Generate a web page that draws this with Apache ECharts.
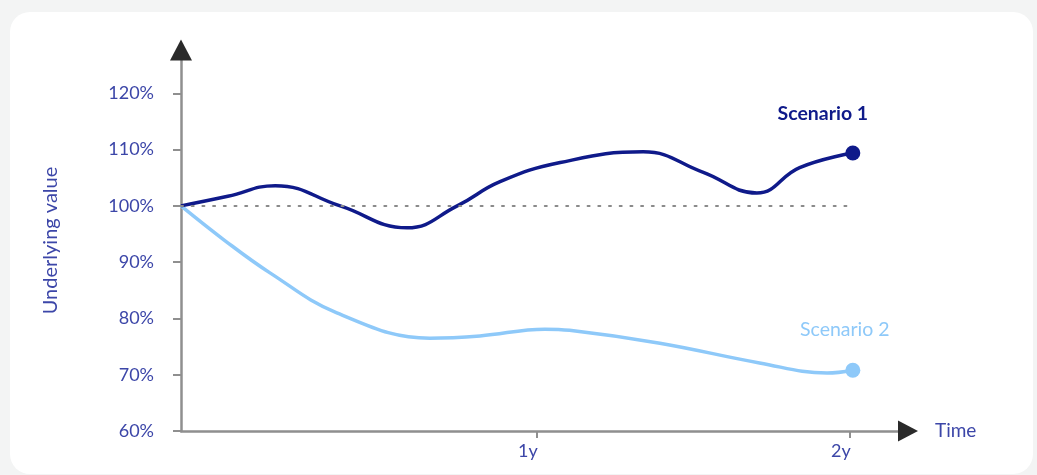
<!DOCTYPE html>
<html>
<head>
<meta charset="utf-8">
<script src="https://cdn.jsdelivr.net/npm/echarts@6/dist/echarts.min.js"></script>
<style>
  html, body { margin: 0; padding: 0; background: #f3f4f4; width: 1037px; height: 475px; overflow: hidden; }
  #card { position: absolute; left: 10px; top: 12px; width: 1023px; height: 462px; background: #ffffff; border-radius: 20px; }
  #chart { position: absolute; left: 0; top: 0; width: 1037px; height: 475px; }
</style>
</head>
<body>
<div id="card"></div>
<div id="chart"></div>
<script>
// time axis in % of the 2-year span (tick positions)
const xTickValues = [53.2, 100];
const xTickLabels = ['1y', '2y'];
const yTickValues = [60, 70, 80, 90, 100, 110, 120];

const s1Time  = [0, 7.0, 14.1, 23.8, 33.8, 41.3, 47.7, 56.7, 69.1, 78.0, 86.1, 92.5, 100.45];
const s1Value = [100, 101.7, 103.6, 100.0, 96.1, 100.0, 104.3, 107.7, 109.6, 106.0, 102.3, 106.8, 109.4];

const s2Time  = [0, 6.6, 13.3, 23.3, 37.2, 44.7, 54.4, 58.1, 71.6, 86.5, 96.6, 100.45];
const s2Value = [100, 93.8, 88.1, 81.0, 76.5, 76.9, 78.1, 77.9, 75.6, 72.1, 70.3, 70.8];

const baseLine = 100;
const names = ['Scenario 1', 'Scenario 2'];

const navy = '#0f1a8a';
const light = '#8ec9f9';
const textBlue = '#3c46a8';
const axisGray = '#8f8f8f';
const arrowDark = '#2a2a2a';
const FONT = 'Lato';

function build(times, values, lastLabel) {
  return times.map((t, i) => {
    if (i === times.length - 1) {
      return { value: [t, values[i]], symbol: 'circle', symbolSize: 15, label: lastLabel };
    }
    return { value: [t, values[i]] };
  });
}

const xMin = 0, xMax = 108.7, yMin = 60, yMax = 127.7;

const chart = echarts.init(document.getElementById('chart'), null, { renderer: 'canvas' });
chart.setOption({
  backgroundColor: 'transparent',
  animation: false,
  textStyle: { fontFamily: FONT },
  grid: { left: 181, right: 129, top: 50, bottom: 44 },
  xAxis: [
    {
      type: 'value', min: xMin, max: xMax, position: 'bottom', z: 1,
      name: 'Time', nameLocation: 'end', nameGap: 27,
      nameTextStyle: { color: textBlue, fontSize: 19, fontFamily: FONT, verticalAlign: 'middle' },
      axisLine: { show: true, lineStyle: { color: axisGray, width: 2.5 }, symbol: 'none' },
      axisTick: { show: true, length: 7, lineStyle: { color: axisGray, width: 2 }, customValues: xTickValues },
      axisLabel: { color: textBlue, fontSize: 18, margin: 11, padding: [0, 18, 0, 0], customValues: xTickValues,
        formatter: v => { const i = xTickValues.indexOf(v); return i >= 0 ? xTickLabels[i] : ''; } },
      splitLine: { show: false }
    },
    {
      // arrow head only
      type: 'value', min: xMin, max: xMax, position: 'bottom', z: 2,
      axisLine: { show: true, lineStyle: { color: arrowDark, width: 1, opacity: 0 }, symbol: ['none', 'triangle'], symbolSize: [21, 20] },
      axisTick: { show: false }, axisLabel: { show: false }, splitLine: { show: false }
    }
  ],
  yAxis: [
    {
      type: 'value', min: yMin, max: yMax, position: 'left', z: 1,
      name: 'Underlying value', nameLocation: 'middle', nameGap: 120, nameRotate: 90,
      nameTextStyle: { color: textBlue, fontSize: 20, fontFamily: FONT },
      axisLine: { show: true, lineStyle: { color: axisGray, width: 2.5 }, symbol: 'none' },
      axisTick: { show: true, length: 8, lineStyle: { color: axisGray, width: 2 }, customValues: yTickValues },
      axisLabel: { color: textBlue, fontSize: 18, margin: 27, customValues: yTickValues, formatter: v => v + '%' },
      splitLine: { show: false }
    },
    {
      type: 'value', min: yMin, max: yMax, position: 'left', z: 2,
      axisLine: { show: true, lineStyle: { color: arrowDark, width: 1, opacity: 0 }, symbol: ['none', 'triangle'], symbolSize: [22, 21] },
      axisTick: { show: false }, axisLabel: { show: false }, splitLine: { show: false }
    }
  ],
  series: [
    {
      name: names[0], type: 'line', smooth: 0.45, symbol: 'none', showSymbol: true,
      xAxisIndex: 0, yAxisIndex: 0,
      lineStyle: { color: navy, width: 3.5 }, itemStyle: { color: navy },
      data: build(s1Time, s1Value, { show: true, position: 'top', offset: [-30, -17], formatter: names[0],
        color: navy, fontSize: 19.5, fontWeight: 'bold', fontFamily: FONT }),
      markLine: {
        silent: true, symbol: 'none', label: { show: false },
        lineStyle: { color: '#8a8a8a', width: 2, type: [2, 8.7], cap: 'round' },
        data: [[{ coord: [0, baseLine] }, { coord: [s1Time[s1Time.length - 1], baseLine] }]]
      },
      z: 3
    },
    {
      name: names[1], type: 'line', smooth: 0.4, symbol: 'none', showSymbol: true,
      xAxisIndex: 0, yAxisIndex: 0,
      lineStyle: { color: light, width: 3.5 }, itemStyle: { color: light },
      data: build(s2Time, s2Value, { show: true, position: 'top', offset: [-8, -18], formatter: names[1],
        color: light, fontSize: 19.5, fontFamily: FONT }),
      z: 2
    }
  ]
});
</script>
</body>
</html>
